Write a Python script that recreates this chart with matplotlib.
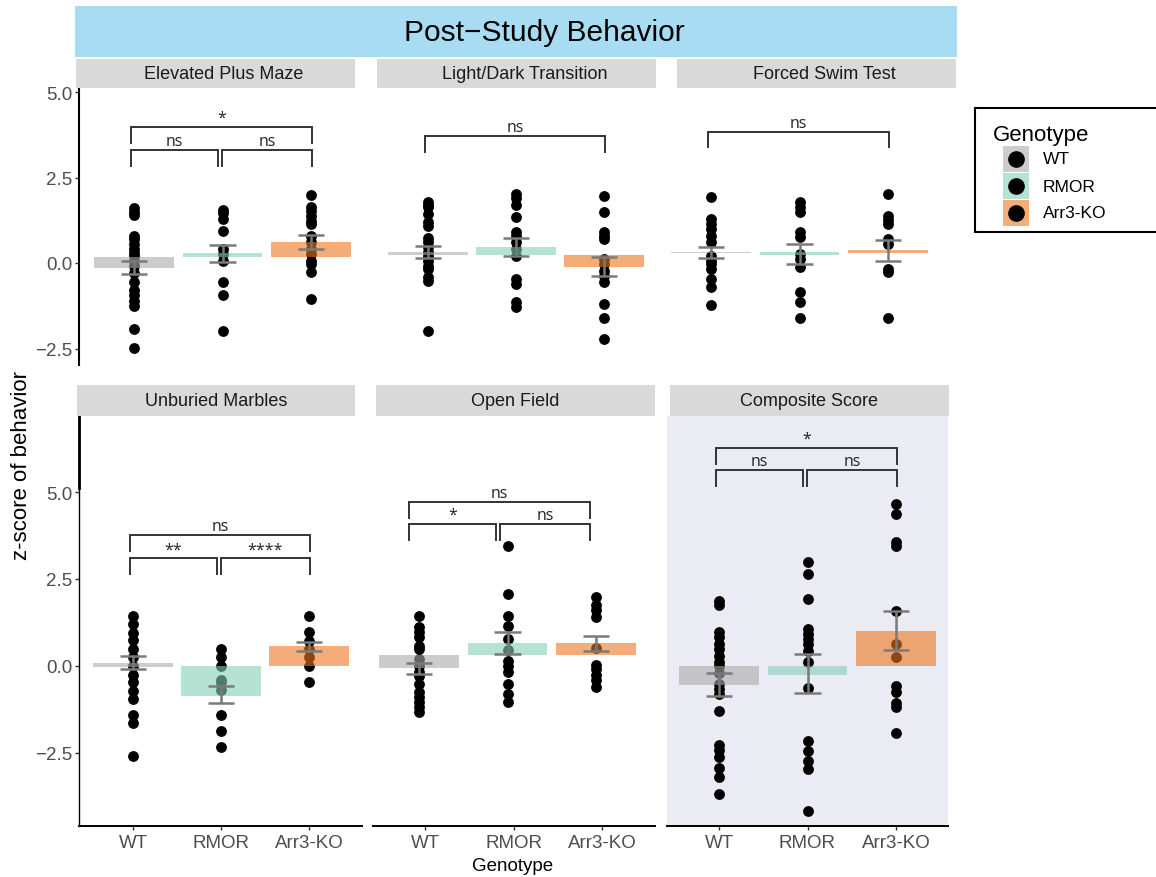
import matplotlib
matplotlib.use("Agg")
import matplotlib.pyplot as plt
from matplotlib.patches import Rectangle
from matplotlib.lines import Line2D

plt.rcParams["font.family"] = ["Liberation Sans", "DejaVu Sans"]

W, H = 1156, 878

genotypes = ["WT", "RMOR", "Arr3-KO"]
bar_colors = ["#aaaaaa", "#84cfb7", "#ed751e"]

# Elevated Plus Maze
epm_points = [
    [1.6, 1.5, 1.4, 0.8, 0.7, 0.55, 0.4, 0.3, 0.2, 0.05, -0.1, -0.3, -0.55, -0.8, -0.95, -1.1, -1.25, -1.93, -2.49],
    [1.55, 1.45, 1.28, 0.95, 0.4, 0.25, 0.07, -0.56, -0.95, -1.98],
    [1.99, 1.63, 1.53, 1.38, 1.24, 1.14, 0.8, 0.6, 0.41, 0.26, 0.07, -0.03, -0.27, -1.05],
]
epm_bar_lo = [-0.14, 0.19, 0.18]
epm_bar_hi = [0.17, 0.29, 0.60]
epm_err_lo = [-0.32, 0.04, 0.40]
epm_err_hi = [0.07, 0.54, 0.82]
epm_tests = [(0, 1, 3.31, "ns"), (1, 2, 3.31, "ns"), (0, 2, 3.97, "*")]

# Light/Dark Transition
ld_points = [
    [1.79, 1.7, 1.63, 1.43, 1.19, 1.09, 0.72, 0.6, 0.46, 0.31, 0.2, 0.07, -0.08, -0.18, -0.42, -0.52, -2.0],
    [2.02, 1.9, 1.7, 1.34, 0.9, 0.8, 0.6, 0.41, 0.21, -0.47, -0.61, -1.13, -1.28],
    [1.95, 1.48, 0.9, 0.8, 0.7, 0.12, -0.03, -0.22, -0.37, -0.56, -1.2, -1.62, -2.22],
]
ld_bar_lo = [0.24, 0.23, -0.11]
ld_bar_hi = [0.33, 0.47, 0.23]
ld_err_lo = [0.15, 0.20, -0.37]
ld_err_hi = [0.51, 0.73, 0.17]
ld_tests = [(0, 2, 3.72, "ns")]

# Forced Swim Test
fst_points = [
    [1.92, 1.29, 1.15, 1.0, 0.8, 0.6, 0.21, 0.07, -0.03, -0.18, -0.47, -0.71, -1.23],
    [1.79, 1.65, 1.5, 0.9, 0.75, 0.26, 0.12, -0.13, -0.84, -1.15, -1.61],
    [2.02, 1.38, 1.25, 1.14, 0.7, 0.56, -0.18, -0.27, -1.61],
]
fst_bar_lo = [0.29, 0.23, 0.30]
fst_bar_hi = [0.32, 0.33, 0.38]
fst_err_lo = [0.15, -0.04, 0.07]
fst_err_hi = [0.48, 0.56, 0.67]
fst_tests = [(0, 2, 3.84, "ns")]

# Unburied Marbles
um_points = [
    [1.45, 1.2, 0.95, 0.75, 0.5, 0.25, 0.0, -0.25, -0.47, -0.71, -0.95, -1.41, -1.64, -2.58],
    [0.5, 0.25, 0.0, -0.4, -0.45, -0.7, -1.41, -1.86, -2.34],
    [1.45, 0.97, 0.73, 0.5, 0.25, 0.0, -0.47],
]
um_bar_lo = [-0.04, -0.85, 0.0]
um_bar_hi = [0.09, 0.0, 0.58]
um_err_lo = [-0.10, -1.07, 0.44]
um_err_hi = [0.28, -0.58, 0.68]
um_tests = [(0, 1, 3.09, "**"), (1, 2, 3.09, "****"), (0, 2, 3.77, "ns")]

# Open Field
of_points = [
    [1.45, 1.11, 0.97, 0.82, 0.58, 0.49, 0.2, 0.0, -0.18, -0.28, -0.52, -0.76, -0.9, -1.04, -1.19, -1.33],
    [3.45, 2.07, 1.43, 1.14, 0.78, 0.45, 0.15, 0.0, -0.16, -0.52, -0.8, -1.04],
    [1.97, 1.75, 1.6, 1.4, 0.51, 0.03, -0.1, -0.25, -0.4, -0.61],
]
of_bar_lo = [-0.07, 0.32, 0.32]
of_bar_hi = [0.32, 0.66, 0.66]
of_err_lo = [-0.22, 0.35, 0.43]
of_err_hi = [0.09, 0.99, 0.87]
of_tests = [(0, 1, 4.08, "*"), (1, 2, 4.08, "ns"), (0, 2, 4.72, "ns")]

# Composite Score
cs_points = [
    [1.88, 1.75, 0.97, 0.82, 0.63, 0.49, 0.3, 0.11, 0.0, -0.21, -0.52, -0.65, -0.8, -1.28, -2.27, -2.4, -2.62, -2.94, -3.2, -3.68],
    [3.0, 2.64, 1.93, 1.06, 0.92, 0.78, 0.63, 0.44, 0.11, -0.63, -2.15, -2.43, -2.72, -2.96, -4.16],
    [4.66, 4.37, 3.55, 3.46, 1.57, 0.63, 0.27, -0.57, -0.76, -1.05, -1.17, -1.93],
]
cs_bar_lo = [-0.54, -0.25, 0.0]
cs_bar_hi = [0.0, 0.0, 1.02]
cs_err_lo = [-0.86, -0.79, 0.46]
cs_err_hi = [-0.2, 0.34, 1.57]
cs_tests = [(0, 1, 5.63, "ns"), (1, 2, 5.63, "ns"), (0, 2, 6.26, "*")]

panels = [
    ("Elevated Plus Maze", epm_points, epm_bar_lo, epm_bar_hi, epm_err_lo, epm_err_hi, epm_tests),
    ("Light/Dark Transition", ld_points, ld_bar_lo, ld_bar_hi, ld_err_lo, ld_err_hi, ld_tests),
    ("Forced Swim Test", fst_points, fst_bar_lo, fst_bar_hi, fst_err_lo, fst_err_hi, fst_tests),
    ("Unburied Marbles", um_points, um_bar_lo, um_bar_hi, um_err_lo, um_err_hi, um_tests),
    ("Open Field", of_points, of_bar_lo, of_bar_hi, of_err_lo, of_err_hi, of_tests),
    ("Composite Score", cs_points, cs_bar_lo, cs_bar_hi, cs_err_lo, cs_err_hi, cs_tests),
]

# pixel layout: rows (top, bottom, zero line, px per unit, strip top/bottom, strip text nudge)
rows = [
    dict(top=89, bottom=366, zero=264, ppu=34.2, s_top=60, s_bot=89, s_dx=8),
    dict(top=417, bottom=827, zero=667, ppu=34.8, s_top=386, s_bot=417, s_dx=0),
]
# panels: row, axes left/right, px of first group, group spacing, strip left/right
layout = [
    dict(row=0, l=79, r=355, x0=134, sp=88.5, sl=76, sr=355, left=True, bottom=False),
    dict(row=0, l=377, r=656, x0=428, sp=88.0, sl=377, sr=656, left=False, bottom=False),
    dict(row=0, l=670, r=956, x0=711, sp=88.5, sl=677, sr=956, left=False, bottom=False),
    dict(row=1, l=79, r=362, x0=133, sp=88.0, sl=77, sr=355, left=True, bottom=True),
    dict(row=1, l=373, r=655, x0=419, sp=88.5, sl=376, sr=655, left=False, bottom=True,
         tick_shift=0.07, bracket_shift=-0.08),
    dict(row=1, l=667, r=948, x0=719, sp=88.5, sl=670, sr=949, left=False, bottom=True,
         bg="#ebebf3"),
]


def fx(x):
    return x / W


def fy(y):
    return 1 - y / H


def prect(l, t, r, b):
    return [l / W, 1 - b / H, (r - l) / W, (b - t) / H]


fig = plt.figure(figsize=(W / 100, H / 100), dpi=100)

# title banner
fig.add_artist(Rectangle((fx(75), fy(58)), fx(957) - fx(75), fy(7) - fy(58),
                         transform=fig.transFigure, facecolor="#a8dcf2", edgecolor="none"))
fig.text(fx(544), fy(33), "Post\u2212Study Behavior", fontsize=21.5, color="black",
         ha="center", va="center")

tick_grey = "#4d4d4d"

for (name, pts, blo, bhi, elo, ehi, tests), lay in zip(panels, layout):
    row = rows[lay["row"]]
    ax = fig.add_axes(prect(lay["l"], row["top"], lay["r"], row["bottom"]))
    ax.set_xlim((lay["l"] - lay["x0"]) / lay["sp"], (lay["r"] - lay["x0"]) / lay["sp"])
    ax.set_ylim((row["zero"] - row["bottom"]) / row["ppu"], (row["zero"] - row["top"]) / row["ppu"])
    ax.set_facecolor(lay.get("bg", "none"))

    # raw points, then translucent bars over them, then error bars
    for i, vals in enumerate(pts):
        ax.plot([i] * len(vals), vals, "o", color="black", ms=7.8, mec="none", zorder=2)
    xs = list(range(3))
    ax.bar(xs, [h - l for l, h in zip(blo, bhi)], bottom=blo, width=0.9,
           color=bar_colors, alpha=0.6, zorder=3, linewidth=0)
    ax.vlines(xs, elo, ehi, color="#7a7a7a", lw=1.8, zorder=4)
    ax.hlines(elo, [x - 0.15 for x in xs], [x + 0.15 for x in xs], color="#7a7a7a", lw=1.8, zorder=4)
    ax.hlines(ehi, [x - 0.15 for x in xs], [x + 0.15 for x in xs], color="#7a7a7a", lw=1.8, zorder=4)

    # significance brackets
    shift = lay.get("bracket_shift", 0.0)
    leg = 0.46
    for a, b, top, label in tests:
        x1 = a - 0.035 + shift
        x2 = b + 0.01 + shift
        if b - a == 1 and a == 0:
            x2 = b - 0.05 + shift
        if b - a == 1 and a == 1:
            x1 = a - 0.005 + shift
        ax.plot([x1, x1, x2, x2], [top - leg, top, top, top - leg], color="#333333",
                lw=1.4, solid_joinstyle="miter", zorder=5)
        ax.text((x1 + x2) / 2, top + 0.15, label, ha="center", va="baseline",
                fontsize=11.5, family=["Open Sans", "DejaVu Sans"], color="#222222")

    for s in ax.spines.values():
        s.set_visible(False)
    if lay["left"]:
        ax.spines["left"].set_visible(True)
        ax.spines["left"].set_linewidth(1.5 if lay["row"] == 0 else 1.0)
        ax.set_yticks([-2.5, 0.0, 2.5, 5.0])
        ax.set_yticklabels(["\u22122.5", "0.0", "2.5", "5.0"])
        ax.tick_params(axis="y", length=3, width=1, color="#333333", labelcolor=tick_grey,
                       labelsize=13.5, pad=2)
    else:
        ax.set_yticks([])
    if lay["bottom"]:
        ax.spines["bottom"].set_visible(True)
        ax.spines["bottom"].set_linewidth(1.4)
        ts = lay.get("tick_shift", 0.0)
        ax.set_xticks([x + ts for x in xs])
        ax.set_xticklabels(genotypes)
        ax.tick_params(axis="x", length=3, width=1, color="#333333", labelcolor=tick_grey,
                       labelsize=13.5, pad=3)
    else:
        ax.set_xticks([])
    if lay["row"] == 1 and lay["left"]:
        # heavier upper part of the axis line
        ax.plot([ax.get_xlim()[0]] * 2, [(row["zero"] - 489) / row["ppu"], ax.get_ylim()[1]],
                color="black", lw=2.0, clip_on=False, zorder=6)

    # facet strip
    fig.add_artist(Rectangle((fx(lay["sl"]), fy(row["s_bot"])), fx(lay["sr"]) - fx(lay["sl"]),
                             fy(row["s_top"]) - fy(row["s_bot"]), transform=fig.transFigure,
                             facecolor="#d9d9d9", edgecolor="none"))
    fig.text(fx((lay["sl"] + lay["sr"]) / 2 + row["s_dx"]), fy((row["s_top"] + row["s_bot"]) / 2),
             name, fontsize=13, color="#1a1a1a", ha="center", va="center")

fig.text(fx(22), fy(466), "z-score of behavior", rotation=90, fontsize=16,
         ha="center", va="center", color="black")
fig.text(fx(513), fy(867), "Genotype", fontsize=13.5, ha="center", va="center", color="black")

# legend
fig.add_artist(Rectangle((fx(975), fy(233)), fx(1162) - fx(975), fy(109) - fy(233),
                         transform=fig.transFigure, facecolor="white", edgecolor="black",
                         lw=1.5, clip_on=False))
fig.text(fx(993), fy(135), "Genotype", fontsize=16, ha="left", va="center", color="black")
key_tops = [147, 174, 201]
for g, col, kt in zip(genotypes, bar_colors, key_tops):
    fig.add_artist(Line2D([fx(1016)], [fy(kt + 13)], marker="o", ms=12, color="black",
                          mec="none", transform=fig.transFigure))
    fig.add_artist(Rectangle((fx(1003), fy(kt + 26)), fx(1029) - fx(1003), fy(kt) - fy(kt + 26),
                             transform=fig.transFigure, facecolor=col, alpha=0.6,
                             edgecolor="none"))
    fig.text(fx(1043), fy(kt + 13), g, fontsize=12.5, ha="left", va="center", color="black")

fig.savefig("out.png", dpi=100)
